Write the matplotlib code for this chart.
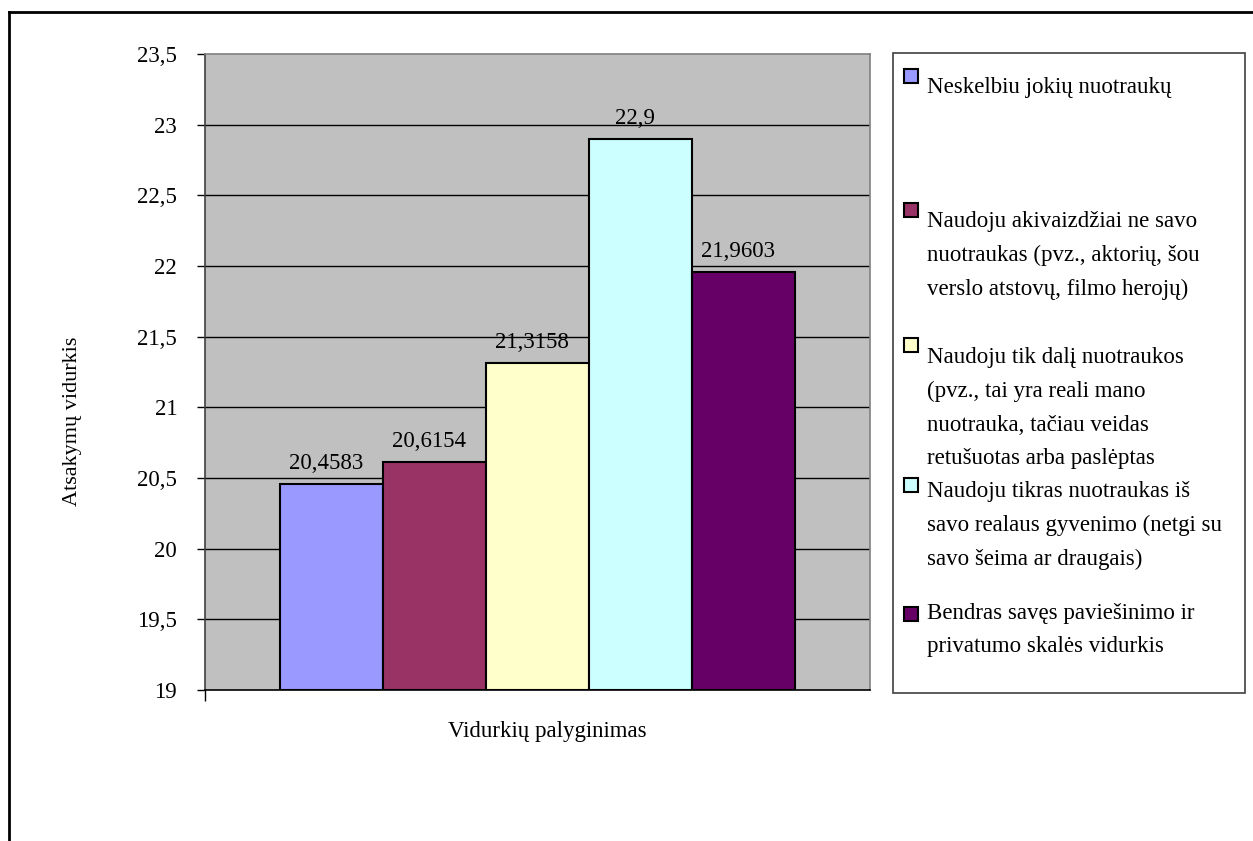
import matplotlib.pyplot as plt
from matplotlib.patches import Rectangle
from matplotlib.lines import Line2D

categories = [
    "Neskelbiu jokių nuotraukų",
    "Naudoju akivaizdžiai ne savo\nnuotraukas (pvz., aktorių, šou\nverslo atstovų, filmo herojų)",
    "Naudoju tik dalį nuotraukos\n(pvz., tai yra reali mano\nnuotrauka, tačiau veidas\nretušuotas arba paslėptas",
    "Naudoju tikras nuotraukas iš\nsavo realaus gyvenimo (netgi su\nsavo šeima ar draugais)",
    "Bendras savęs paviešinimo ir\nprivatumo skalės vidurkis",
]
values = [20.4583, 20.6154, 21.3158, 22.9, 21.9603]
value_labels = ["20,4583", "20,6154", "21,3158", "22,9", "21,9603"]
colors = ["#9999FF", "#993366", "#FFFFCC", "#CCFFFF", "#660066"]
y_ticks = [19, 19.5, 20, 20.5, 21, 21.5, 22, 22.5, 23, 23.5]
y_labels = ["19", "19,5", "20", "20,5", "21", "21,5", "22", "22,5", "23", "23,5"]

plt.rcParams['font.family'] = ['Liberation Serif', 'DejaVu Serif']
FS = 16.5

W, H = 1253, 841
fig = plt.figure(figsize=(W / 100, H / 100), dpi=100)
ax = fig.add_axes([205 / W, 1 - 690 / H, 665 / W, 636 / H])
ax.set_facecolor("#C0C0C0")

w = 103 / 665
for i, (v, c, lab) in enumerate(zip(values, colors, value_labels)):
    x = (i - 2) * w
    ax.bar(x, v - 19, bottom=19, width=w, color=c, edgecolor="black", linewidth=1.5, zorder=3)
    ax.text(x - 0.008, v + 0.07, lab, ha="center", va="bottom", fontsize=FS, zorder=4)

ax.set_xlim(-0.5, 0.5)
ax.set_ylim(19, 23.5)
ax.set_yticks(y_ticks, y_labels, fontsize=FS)
ax.set_xticks([-0.5])
ax.set_xticklabels([""])
ax.tick_params(axis="y", direction="out", length=6, width=1, pad=14)
ax.tick_params(axis="x", direction="out", length=8, width=1)
for y in y_ticks[1:-1]:
    ax.axhline(y, color="black", linewidth=1, zorder=1)
ax.spines["top"].set_color("#808080")
ax.spines["right"].set_color("#808080")
ax.spines["left"].set_color("#404040")
ax.spines["bottom"].set_color("black")
for s in ax.spines.values():
    s.set_linewidth(1.2)

fig.text(73 / W, 1 - 421 / H, "Atsakymų vidurkis", rotation=90, ha="center", va="center", fontsize=16)
fig.text(448 / W, 1 - 737 / H, "Vidurkių palyginimas", ha="left", va="baseline", fontsize=FS)

# legend box
fig.add_artist(Rectangle((893 / W, 1 - 693 / H), 352 / W, 640 / H, transform=fig.transFigure,
                         facecolor="white", edgecolor="#404040", linewidth=1.2))
baselines = [93, 227, 362, 497, 618]
square_tops = [69, 203, 338, 478, 607]
step = 34
for c, lab, b, st in zip(colors, categories, baselines, square_tops):
    fig.add_artist(Rectangle((904 / W, 1 - (st + 14) / H), 14 / W, 14 / H, transform=fig.transFigure,
                             facecolor=c, edgecolor="black", linewidth=1.5))
    last = b + step * lab.count("\n")
    fig.text(927 / W, 1 - last / H, lab, ha="left", va="baseline", fontsize=FS, linespacing=1.78)

# outer frame
fig.add_artist(Line2D([9 / W, 1], [1 - 12 / H, 1 - 12 / H], transform=fig.transFigure, color="black", linewidth=2))
fig.add_artist(Line2D([9 / W, 9 / W], [0, 1 - 12 / H], transform=fig.transFigure, color="black", linewidth=2))

fig.savefig("out.png", dpi=100)
